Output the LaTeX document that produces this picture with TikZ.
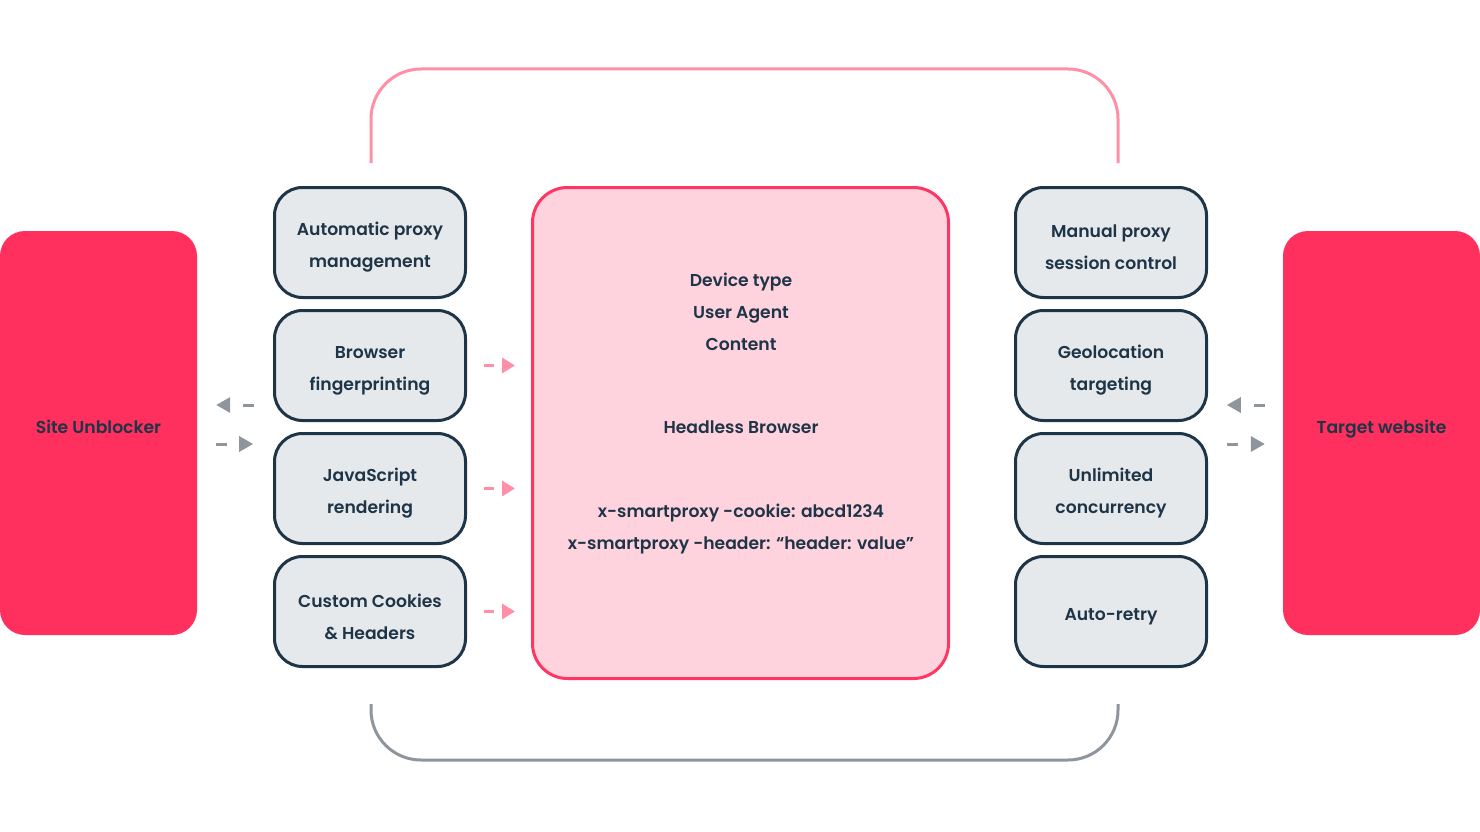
\documentclass[tikz,border=0pt]{standalone}
\usepackage{fontspec}
\setmainfont{Poppins}[BoldFont={Poppins SemiBold}]
\usetikzlibrary{positioning,arrows.meta,calc}
\definecolor{brandred}{HTML}{FF2F5E}
\definecolor{corepink}{HTML}{FFD3DE}
\definecolor{coreline}{HTML}{FF3563}
\definecolor{ink}{HTML}{1E3447}
\definecolor{cardgray}{HTML}{E6E9EC}
\definecolor{looppink}{HTML}{FF8FA6}
\definecolor{loopgray}{HTML}{8E959C}

\begin{document}
\begin{tikzpicture}[x=1pt,y=-1pt,
  font=\fontsize{17.2}{32}\selectfont\bfseries, text=ink, node distance=10pt,
  card/.style={rectangle,draw=ink,line width=3pt,fill=cardgray,rounded corners=28pt,
    minimum width=191pt,minimum height=110pt,label={[align=center,yshift=-5pt]center:#1}},
  endpoint/.style={rectangle,fill=brandred,rounded corners=25pt,minimum width=197pt,minimum height=404pt},
  feed/.style={looppink,line width=3pt,dash pattern=on 10pt off 40pt,-{Triangle[length=13pt,width=15pt]}},
  flow/.style={loopgray,line width=3pt,dash pattern=on 11pt off 40pt,-{Triangle[length=14pt,width=15pt]}}]
\useasboundingbox (0,0) rectangle (1480,832);

% end points
\node[endpoint] (unblocker) at (98.5,433) {};
\node at (98.5,427) {Site Unblocker};
\node[endpoint] (target) at (1381.5,433) {};
\node at (1381.5,429) {Target website};

% feature cards
\node[card={Automatic proxy\\management}] (lt1) at (370,242.5) {};
\node[card={Browser\\fingerprinting},below=of lt1] (lt2) {};
\node[card={JavaScript\\rendering},below=of lt2] (lt3) {};
\node[card={Custom Cookies\\\& Headers},below=of lt3] (lt4) {};
\node[card={Manual proxy\\session control}] (rt1) at (1111,242.5) {};
\node[card={Geolocation\\targeting},below=of rt1] (rt2) {};
\node[card={Unlimited\\concurrency},below=of rt2] (rt3) {};
\node[card={Auto-retry},below=of rt3] (rt4) {};

% headless browser
\node[rectangle,draw=coreline,line width=3pt,fill=corepink,rounded corners=35pt,
  minimum width=416pt,minimum height=491pt] (core) at (740.5,433) {};
\node[align=center] (specs) at (741,311.5) {Device type\\User Agent\\Content};
\node (engine) at (741,427) {Headless Browser};
\node[align=center] (headers) at (741,529) {x-smartproxy -cookie: abcd1234\\x-smartproxy -header: “header: value”};

% loops
\draw[looppink,line width=3pt,rounded corners=50pt] ([xshift=1pt,yshift=23pt]lt1.north) |- ([yshift=117pt]core.north) -| ([xshift=7pt,yshift=23pt]rt1.north);
\draw[loopgray,line width=3pt,rounded corners=50pt] ([xshift=1pt,yshift=-36pt]lt4.south) |- ([yshift=-80pt]core.south) -| ([xshift=7pt,yshift=-36pt]rt4.south);

% arrows
\foreach \c in {lt2,lt3,lt4}
  \draw[feed] ($(\c.east)+(17pt,0pt)$) -- ($(core.west |- \c.east)+(-16pt,0pt)$);
\draw[flow] ($(unblocker.east)+(57pt,28pt)$) -- ($(unblocker.east)+(19pt,28pt)$);
\draw[flow] ($(unblocker.east)+(19pt,-11pt)$) -- ($(unblocker.east)+(56pt,-11pt)$);
\draw[flow] ($(target.west)+(-18pt,28pt)$) -- ($(target.west)+(-56pt,28pt)$);
\draw[flow] ($(target.west)+(-56pt,-11pt)$) -- ($(target.west)+(-18pt,-11pt)$);
\end{tikzpicture}
\end{document}
